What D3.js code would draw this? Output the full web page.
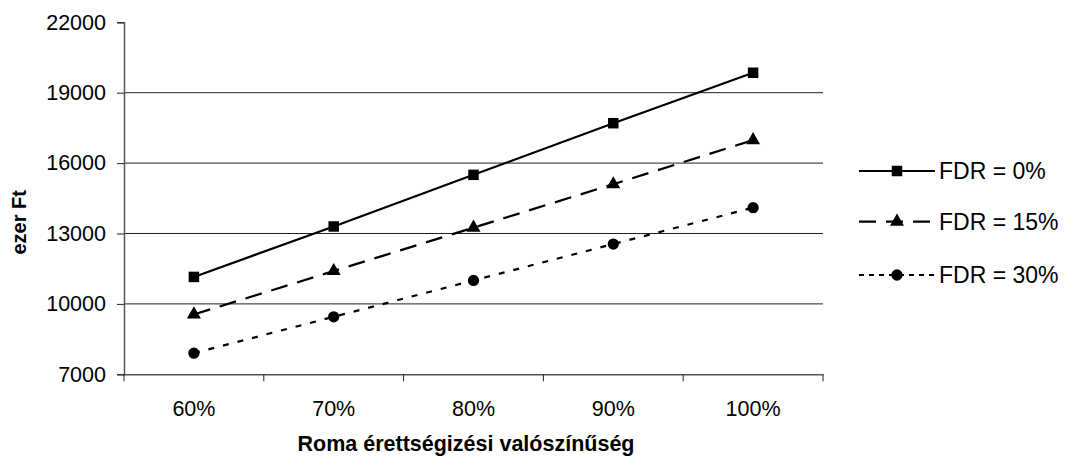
<!DOCTYPE html>
<html><head><meta charset="utf-8">
<script src="https://cdn.jsdelivr.net/npm/d3@7"></script>
<style>
body{margin:0;background:#fff;}
text{font-family:"Liberation Sans",Arial,sans-serif;fill:#000;}
</style></head><body>
<svg id="c" width="1065" height="457"></svg>
<script>
const categories = ["60%","70%","80%","90%","100%"];
const seriesNames = ["FDR = 0%","FDR = 15%","FDR = 30%"];
const fdr0  = [11150, 13300, 15500, 17700, 19850];
const fdr15 = [9550, 11400, 13250, 15100, 16980];
const fdr30 = [7900, 9450, 11000, 12550, 14100];
const yTicks = [7000, 10000, 13000, 16000, 19000, 22000];
const xTitle = "Roma érettségizési valószínűség";
const yTitle = "ezer Ft";

const series = [
  {name: seriesNames[0], values: fdr0, dash: null, legDash: null, sym: d3.symbolSquare, size: 110},
  {name: seriesNames[1], values: fdr15, dash: "17,10", legDash: "17,10", sym: d3.symbolTriangle, size: 85},
  {name: seriesNames[2], values: fdr30, dash: "6,9", legDash: "5,5", sym: d3.symbolCircle, size: 100}
];

const svg = d3.select("#c");
const L = 124, R = 823, T = 22.3, B = 374.3;
const FS = "21.5px";
const x = d3.scaleBand().domain(categories).range([L, R]);
const y = d3.scaleLinear().domain([7000, 22000]).range([B, T]);

// gridlines
svg.append("g").selectAll("line").data(yTicks.filter(v => v > 7000 && v < 22000)).join("line")
  .attr("x1", L).attr("x2", R).attr("y1", d => y(d)).attr("y2", d => y(d))
  .attr("stroke", "#222").attr("stroke-width", 1);

// y axis
const yAxis = svg.append("g").attr("transform", `translate(${L},0)`)
  .call(d3.axisLeft(y).tickValues(yTicks).tickSize(7).tickPadding(11).tickFormat(d3.format("d")));
yAxis.select(".domain").attr("stroke", "#555").attr("stroke-width", 1.5);
yAxis.selectAll(".tick line").attr("stroke", "#222");
yAxis.selectAll("text").attr("font-size", FS).attr("fill", "#000").attr("font-family", "Liberation Sans, Arial, sans-serif");

// x axis
const xAxis = svg.append("g").attr("transform", `translate(0,${B})`)
  .call(d3.axisBottom(x).tickSize(0).tickPadding(26));
xAxis.select(".domain").attr("stroke", "#555").attr("stroke-width", 1.5);
xAxis.selectAll("text").attr("font-size", FS).attr("fill", "#000").attr("font-family", "Liberation Sans, Arial, sans-serif");
// category boundary ticks
const bounds = categories.map(c => x(c)).concat([R]);
svg.append("g").selectAll("line").data(bounds).join("line")
  .attr("x1", d => d).attr("x2", d => d).attr("y1", B).attr("y2", B + 7)
  .attr("stroke", "#222");

// titles
svg.append("text").attr("x", 466).attr("y", 451).attr("text-anchor", "middle")
  .attr("font-weight", "bold").attr("font-size", "21.5px").text(xTitle);
svg.append("text").attr("transform", `translate(26,${(T + B) / 2 + 24}) rotate(-90)`)
  .attr("text-anchor", "middle").attr("font-weight", "bold").attr("font-size", "20px").text(yTitle);

// lines
const line = d3.line().x((d, i) => x(categories[i]) + x.bandwidth() / 2).y(d => y(d));
series.forEach(s => {
  svg.append("path").datum(s.values).attr("d", line).attr("fill", "none")
    .attr("stroke", "#000").attr("stroke-width", 2.2)
    .attr("stroke-dasharray", s.dash);
  svg.append("g").selectAll("path").data(s.values).join("path")
    .attr("transform", (d, i) => `translate(${x(categories[i]) + x.bandwidth() / 2},${y(d)})`)
    .attr("d", d3.symbol().type(s.sym).size(s.size)).attr("fill", "#000");
});

// legend
const legY = [171, 221.7, 275];
const lg = svg.append("g");
series.forEach((s, i) => {
  const g = lg.append("g").attr("transform", `translate(0,${legY[i]})`);
  g.append("line").attr("x1", 859).attr("x2", 935).attr("y1", 0).attr("y2", 0)
    .attr("stroke", "#000").attr("stroke-width", 2.2).attr("stroke-dasharray", s.legDash);
  g.append("path").attr("transform", "translate(897,0)")
    .attr("d", d3.symbol().type(s.sym).size(s.size)).attr("fill", "#000");
  g.append("text").attr("x", 939).attr("y", 8).attr("font-size", "23px").text(s.name);
});
</script>
</body></html>
